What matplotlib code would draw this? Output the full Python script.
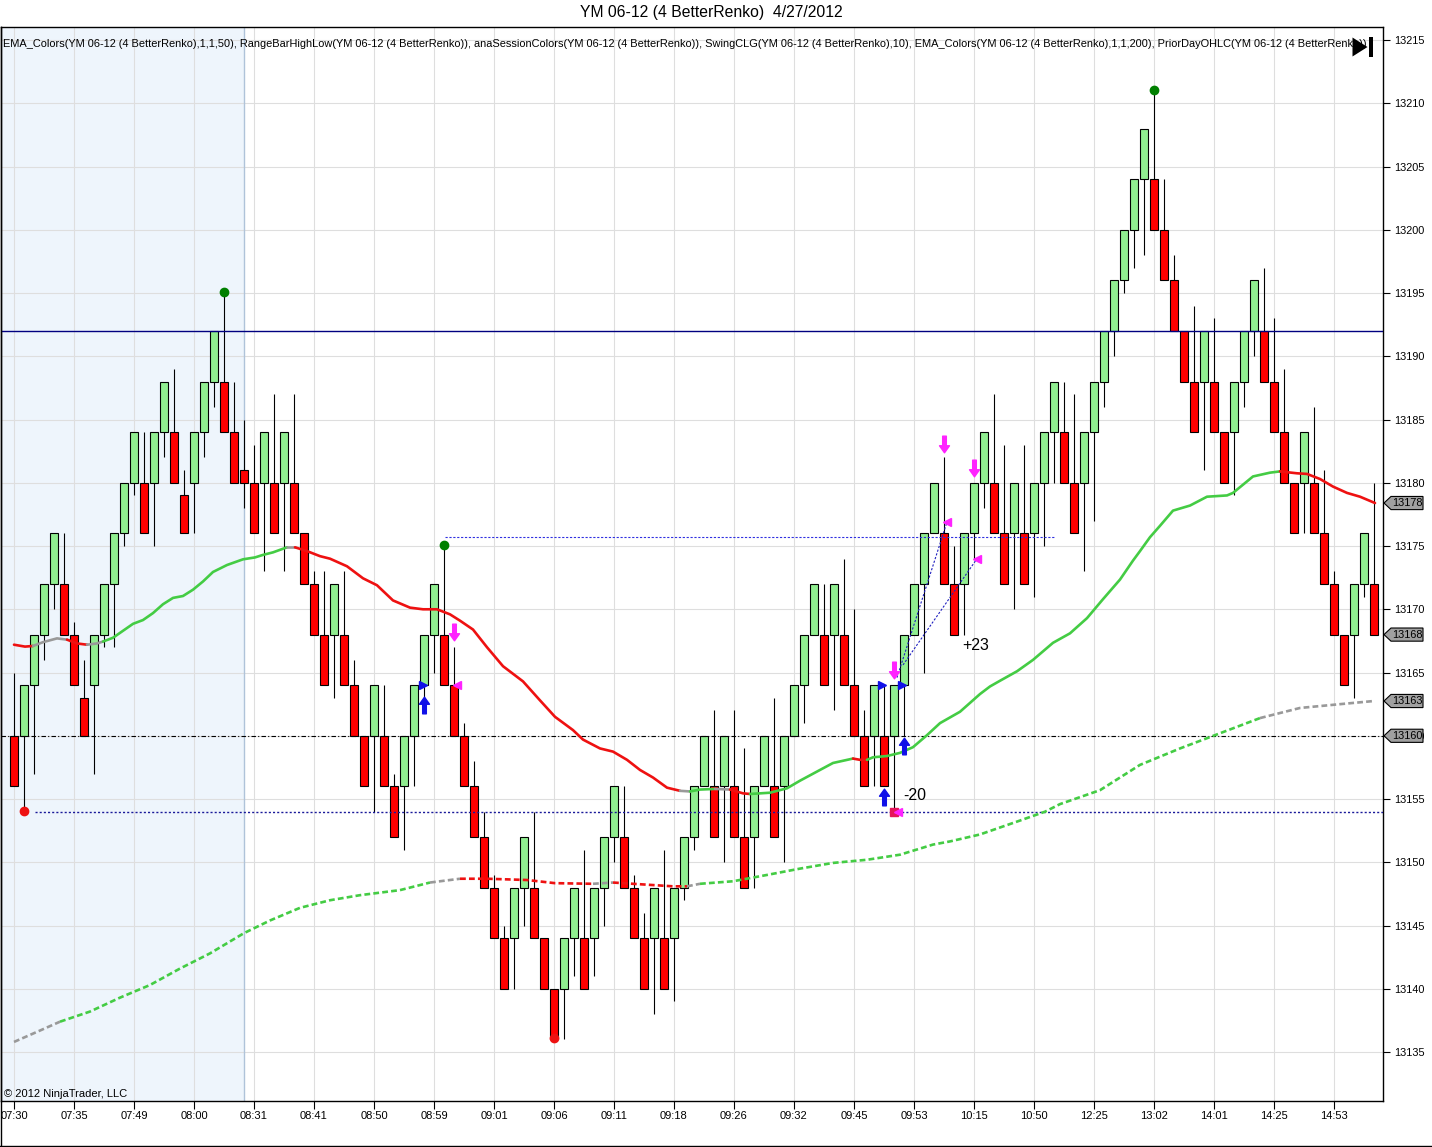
import matplotlib
matplotlib.use("Agg")
import matplotlib.pyplot as plt
import matplotlib.transforms as mtransforms
from matplotlib.patches import Polygon, Rectangle
from matplotlib.lines import Line2D
from matplotlib.path import Path

plt.rcParams['font.family'] = ['Liberation Sans', 'DejaVu Sans']

# ---------------- data ----------------
bar_open = [13160, 13160, 13164, 13168, 13172, 13172, 13168, 13163, 13164, 13168,
            13172, 13176, 13180, 13180, 13180, 13184, 13184, 13179, 13180, 13184,
            13188, 13188, 13184, 13181, 13180, 13180, 13180, 13180, 13180, 13176,
            13172, 13168, 13168, 13168, 13164, 13160, 13160, 13160, 13156, 13156,
            13160, 13164, 13168, 13168, 13164, 13160, 13156, 13152, 13148, 13144,
            13144, 13148, 13148, 13144, 13140, 13140, 13144, 13144, 13144, 13148,
            13152, 13152, 13148, 13144, 13144, 13144, 13144, 13148, 13152, 13156,
            13156, 13156, 13156, 13152, 13152, 13156, 13156, 13156, 13160, 13164,
            13168, 13168, 13168, 13168, 13164, 13160, 13160, 13160, 13160, 13164,
            13168, 13172, 13176, 13176, 13172, 13172, 13176, 13180, 13180, 13176,
            13176, 13176, 13176, 13180, 13184, 13184, 13180, 13180, 13184, 13188,
            13192, 13196, 13200, 13204, 13204, 13200, 13196, 13192, 13188, 13188,
            13188, 13184, 13184, 13188, 13192, 13192, 13188, 13184, 13180, 13180,
            13180, 13176, 13172, 13168, 13168, 13172, 13172]
bar_close = [13156, 13164, 13168, 13172, 13176, 13168, 13164, 13160, 13168, 13172,
             13176, 13180, 13184, 13176, 13184, 13188, 13180, 13176, 13184, 13188,
             13192, 13184, 13180, 13180, 13176, 13184, 13176, 13184, 13176, 13172,
             13168, 13164, 13172, 13164, 13160, 13156, 13164, 13156, 13152, 13160,
             13164, 13168, 13172, 13164, 13160, 13156, 13152, 13148, 13144, 13140,
             13148, 13152, 13144, 13140, 13136, 13144, 13148, 13140, 13148, 13152,
             13156, 13148, 13144, 13140, 13148, 13140, 13148, 13152, 13156, 13160,
             13152, 13160, 13152, 13148, 13156, 13160, 13152, 13160, 13164, 13168,
             13172, 13164, 13172, 13164, 13160, 13156, 13164, 13156, 13164, 13168,
             13172, 13176, 13180, 13172, 13168, 13176, 13180, 13184, 13176, 13172,
             13180, 13172, 13180, 13184, 13188, 13180, 13176, 13184, 13188, 13192,
             13196, 13200, 13204, 13208, 13200, 13196, 13192, 13188, 13184, 13192,
             13184, 13180, 13188, 13192, 13196, 13188, 13184, 13180, 13176, 13184,
             13176, 13172, 13168, 13164, 13172, 13176, 13168]
bar_high = [13165, 13164, 13168, 13172, 13176, 13176, 13169, 13166, 13168, 13172,
            13176, 13180, 13184, 13184, 13184, 13188, 13189, 13181, 13184, 13188,
            13192, 13195, 13188, 13185, 13183, 13184, 13187, 13184, 13187, 13176,
            13173, 13173, 13172, 13173, 13166, 13160, 13164, 13164, 13157, 13160,
            13164, 13168, 13172, 13175, 13167, 13161, 13158, 13154, 13149, 13145,
            13148, 13152, 13154, 13144, 13140, 13144, 13148, 13151, 13148, 13152,
            13156, 13156, 13149, 13146, 13148, 13151, 13148, 13152, 13156, 13160,
            13162, 13160, 13162, 13159, 13156, 13160, 13163, 13160, 13164, 13168,
            13172, 13172, 13172, 13174, 13170, 13162, 13164, 13164, 13164, 13168,
            13172, 13176, 13180, 13182, 13175, 13176, 13180, 13184, 13187, 13183,
            13180, 13183, 13180, 13184, 13188, 13188, 13187, 13184, 13188, 13192,
            13196, 13200, 13204, 13208, 13211, 13204, 13198, 13192, 13194, 13192,
            13193, 13184, 13188, 13192, 13196, 13197, 13193, 13189, 13180, 13184,
            13186, 13181, 13173, 13168, 13172, 13176, 13180]
bar_low = [13156, 13154, 13157, 13166, 13170, 13168, 13164, 13160, 13157, 13167,
           13167, 13175, 13179, 13176, 13175, 13182, 13180, 13176, 13176, 13182,
           13186, 13184, 13180, 13178, 13176, 13173, 13176, 13173, 13176, 13172,
           13168, 13164, 13163, 13164, 13160, 13156, 13154, 13156, 13152, 13151,
           13156, 13163, 13165, 13164, 13160, 13156, 13152, 13148, 13144, 13140,
           13140, 13145, 13144, 13140, 13136, 13136, 13141, 13140, 13141, 13145,
           13150, 13148, 13144, 13140, 13138, 13140, 13139, 13147, 13151, 13156,
           13152, 13150, 13152, 13148, 13148, 13156, 13152, 13150, 13160, 13161,
           13168, 13164, 13162, 13164, 13160, 13156, 13156, 13156, 13154, 13160,
           13168, 13165, 13176, 13172, 13168, 13168, 13174, 13178, 13176, 13172,
           13170, 13172, 13171, 13175, 13180, 13180, 13176, 13173, 13177, 13186,
           13190, 13195, 13197, 13198, 13200, 13196, 13192, 13188, 13184, 13181,
           13184, 13180, 13179, 13186, 13190, 13188, 13184, 13180, 13176, 13176,
           13176, 13172, 13168, 13164, 13163, 13171, 13168]

time_labels = ['07:30', '07:35', '07:49', '08:00', '08:31', '08:41', '08:50', '08:59',
               '09:01', '09:06', '09:11', '09:18', '09:26', '09:32', '09:45', '09:53',
               '10:15', '10:50', '12:25', '13:02', '14:01', '14:25', '14:53']
time_label_bars = [1, 7, 13, 19, 25, 31, 37, 43, 49, 55, 61, 67, 73, 79, 85, 91,
                   97, 103, 109, 115, 121, 127, 133]

# EMA(50) (bar position, value, trend u/d/n)
ema50_pos = [1.0, 2.1, 2.9, 3.9, 5.3, 6.3, 7.3, 8.3, 9.3, 9.9,
             10.9, 11.9, 12.9, 13.9, 14.9, 15.9, 16.9, 17.9, 18.9, 19.9,
             20.9, 22.3, 23.9, 25.1, 25.9, 26.9, 28.3, 29.1, 30.3, 31.6,
             32.6, 34.3, 35.9, 37.3, 38.9, 40.6, 41.9, 43.3, 44.6, 45.6,
             46.9, 48.3, 49.9, 51.9, 53.6, 55.1, 56.9, 57.9, 59.6, 60.9,
             62.3, 63.6, 64.9, 66.3, 67.6, 68.6, 69.6, 71.1, 72.6, 73.9,
             74.6, 76.6, 78.3, 79.6, 81.6, 82.9, 84.9, 85.6, 86.3, 86.9,
             88.3, 89.6, 90.9, 92.3, 93.6, 94.6, 95.6, 96.6, 97.6, 98.6,
             99.6, 101.3, 102.9, 104.9, 106.6, 108.3, 109.9, 111.6, 112.9, 113.6,
             114.6, 115.6, 116.9, 118.6, 120.3, 122.3, 122.9, 124.9, 126.6, 127.6,
             129.3, 130.3, 131.6, 132.9, 134.3, 135.6, 137.1]
ema50_val = [13167.2, 13167.05, 13167.1, 13167.4, 13167.7, 13167.6, 13167.3, 13167.2, 13167.3, 13167.45,
             13167.75, 13168.3, 13168.85, 13169.15, 13169.7, 13170.4, 13170.9, 13171.05, 13171.55, 13172.2,
             13172.95, 13173.5, 13173.95, 13174.1, 13174.3, 13174.5, 13174.9, 13174.9, 13174.6, 13174.2,
             13174.0, 13173.4, 13172.45, 13171.9, 13170.7, 13170.13, 13170.0, 13170.0, 13169.6, 13169.1,
             13168.4, 13167.0, 13165.5, 13164.3, 13162.8, 13161.5, 13160.45, 13159.7, 13159.0, 13158.75,
             13158.1, 13157.3, 13156.7, 13155.9, 13155.65, 13155.6, 13155.75, 13155.8, 13155.75, 13155.45,
             13155.4, 13155.5, 13155.85, 13156.45, 13157.3, 13157.85, 13158.2, 13158.1, 13158.1, 13158.3,
             13158.4, 13158.65, 13159.1, 13160.05, 13161.0, 13161.45, 13161.9, 13162.6, 13163.3, 13163.9,
             13164.35, 13165.1, 13166.0, 13167.35, 13168.1, 13169.3, 13170.8, 13172.35, 13173.85, 13174.6,
             13175.7, 13176.6, 13177.8, 13178.2, 13178.9, 13179.0, 13179.2, 13180.5, 13180.8, 13180.9,
             13180.75, 13180.7, 13180.3, 13179.7, 13179.2, 13178.9, 13178.4]
ema50_trend = ("ddd" "nnn" "dd" "nn" "uuuuuuuuuuuuuuuuu" "n"
               "ddddddddddddddddddddddddddd" "n" "uu" "n" "dd" "uuuuuu" "dd"
               "uuuuuuuuuuuuuuuuuuuuuuuuuuuuuuu" "ddddddd")

# EMA(200)
ema200_pos = [1.0, 3.6, 5.6, 8.6, 11.6, 14.6, 17.6, 20.6, 24.0, 26.6,
              29.6, 32.6, 35.6, 39.6, 42.6, 45.6, 48.3, 52.3, 55.1, 58.9,
              60.9, 62.9, 66.9, 68.3, 69.6, 72.9, 76.3, 79.6, 82.9, 86.3,
              89.6, 92.9, 94.6, 97.6, 101.6, 104.1, 105.6, 109.6, 113.6, 117.6,
              121.6, 125.6, 129.6, 133.6, 137.0]
ema200_val = [13135.8, 13136.7, 13137.4, 13138.2, 13139.3, 13140.3, 13141.6, 13142.8, 13144.4, 13145.4,
              13146.4, 13147.0, 13147.4, 13147.8, 13148.4, 13148.7, 13148.7, 13148.6, 13148.35, 13148.3,
              13148.4, 13148.3, 13148.1, 13148.1, 13148.3, 13148.5, 13149.0, 13149.5, 13149.95, 13150.2,
              13150.6, 13151.4, 13151.65, 13152.2, 13153.3, 13154.0, 13154.6, 13155.7, 13157.7, 13159.0,
              13160.2, 13161.4, 13162.2, 13162.5, 13162.75]
ema200_trend = ("nnn" "uuuuuuuuuuuu" "n" "dddd" "n" "ddd" "n"
                "uuuuuuuuuuuuuuuuu" "nnn")

prior_high = 13192
prior_close = 13160
swing_low_line = 13154
swing_low_line_start = 3.1
swing_high_line = 13175.7
swing_high_line_span = [44.1, 105.1]
session_end_bar = 24.0

swing_high_bars = [22, 44, 115]
swing_high_vals = [13195.1, 13175.1, 13211.05]
swing_low_bars = [2, 55]
swing_low_vals = [13154.05, 13136.1]

up_arrow_bars = [42, 88, 90]
up_arrow_vals = [13162.4, 13155.2, 13159.2]
down_arrow_bars = [45, 89, 94, 97]
down_arrow_vals = [13168.2, 13165.2, 13183.1, 13181.2]
entry_tri_bars = [41.9, 87.8, 89.8]
entry_tri_vals = [13164.0, 13164.0, 13164.0]
exit_tri_bars = [45.3, 89.4, 94.3, 97.3]
exit_tri_vals = [13164.0, 13154.0, 13176.9, 13174.0]
stop_bar, stop_val = 89, 13154.0
trade_lines = [((89.3, 13164.6), (94.3, 13176.9)),
               ((89.9, 13165.6), (97.3, 13174.0))]
trade_texts = ['-20', '+23']
trade_text_pos = [(89.9, 13155.3), (95.8, 13167.1)]

header = ("EMA_Colors(YM 06-12 (4 BetterRenko),1,1,50), RangeBarHighLow(YM 06-12 (4 BetterRenko)), "
          "anaSessionColors(YM 06-12 (4 BetterRenko)), SwingCLG(YM 06-12 (4 BetterRenko),10), "
          "EMA_Colors(YM 06-12 (4 BetterRenko),1,1,200), PriorDayOHLC(YM 06-12 (4 BetterRenko))")
title = "YM 06-12 (4 BetterRenko)  4/27/2012"

# ---------------- figure ----------------
W, H = 1432, 1147
fig = plt.figure(figsize=(W / 100, H / 100), dpi=100)
fig.patch.set_facecolor('white')
ax_l, ax_r, ax_t, ax_b = 1, 1383, 27, 1101
ax = fig.add_axes([ax_l / W, 1 - ax_b / H, (ax_r - ax_l) / W, (ax_b - ax_t) / H])
ax.set_xlim(-0.3, 137.9)
ax.set_ylim(13131.13, 13216.03)

GREEN_BAR = '#90EE90'
RED_BAR = '#FF0000'
GRID = '#DEDEDE'

# session shading
ax.axvspan(-0.3, session_end_bar, color='#EEF5FC', zorder=0, lw=0)
ax.axvline(session_end_bar, color='#AFC3D9', lw=1.0, zorder=0.6)

# grid
for b in time_label_bars:
    ax.axvline(b, color=GRID, lw=0.8, zorder=0.5)
yt = list(range(13135, 13216, 5))
for v in yt:
    ax.axhline(v, color=GRID, lw=0.8, zorder=0.5)

# bars
n = len(bar_open)
xs = list(range(1, n + 1))
ax.vlines(xs, bar_low, bar_high, color='black', lw=0.8, zorder=2.5)
bottoms = [min(o, c) for o, c in zip(bar_open, bar_close)]
heights = [abs(c - o) for o, c in zip(bar_open, bar_close)]
colors = [GREEN_BAR if c > o else RED_BAR for o, c in zip(bar_open, bar_close)]
ax.bar(xs, heights, bottom=bottoms, width=0.82, color=colors,
       edgecolor='black', linewidth=0.8, zorder=3)

# level lines
ax.axhline(prior_high, color='#000080', lw=1.0, zorder=3.5)
ax.axhline(prior_close, color='black', lw=0.8, ls=(0, (4, 2, 1, 2)), zorder=3.5)
ax.plot([swing_low_line_start, 137.9], [swing_low_line, swing_low_line],
        color='#1A1A9A', lw=1.0, ls=(0, (1.5, 1.5)), zorder=3.5)
ax.plot(swing_high_line_span, [swing_high_line, swing_high_line],
        color='#3030E0', lw=0.8, ls=(0, (2, 1.5)), zorder=3.5)

# EMA lines
cmap = {'u': '#44CC44', 'd': '#EE1111', 'n': '#999999'}


def draw_runs(pos, val, trend, **kw):
    m = len(pos)
    k = 1
    while k < m:
        t = trend[k]
        j = k
        while j + 1 < m and trend[j + 1] == t:
            j += 1
        ax.plot(pos[k - 1:j + 1], val[k - 1:j + 1], color=cmap[t],
                solid_capstyle='round', zorder=4, **kw)
        k = j + 1


draw_runs(ema50_pos, ema50_val, ema50_trend, lw=1.9)
draw_runs(ema200_pos, ema200_val, ema200_trend, lw=1.9, ls=(0, (2.2, 1.2)))

# trade lines
for (p0, p1) in trade_lines:
    ax.plot([p0[0], p1[0]], [p0[1], p1[1]], color='#2020C0', lw=0.8,
            ls=(0, (2, 1.5)), zorder=4.5)

# markers
ax.plot(swing_high_bars, swing_high_vals, 'o', color='#008000', ms=6, zorder=5)
ax.plot(swing_low_bars, swing_low_vals, 'o', color='#EE1111', ms=6, zorder=5)
ax.plot([stop_bar], [stop_val], 's', color='#E5145A', ms=6, zorder=5)

up_path = Path([(0, 1), (0.6, 0.15), (0.22, 0.15), (0.22, -1), (-0.22, -1),
                (-0.22, 0.15), (-0.6, 0.15), (0, 1)], closed=True)
down_path = Path([(0, -1), (0.6, -0.15), (0.22, -0.15), (0.22, 1), (-0.22, 1),
                  (-0.22, -0.15), (-0.6, -0.15), (0, -1)], closed=True)
ax.plot(up_arrow_bars, up_arrow_vals, ls='none', marker=up_path, ms=12,
        color='#1010E8', zorder=5.5)
ax.plot(down_arrow_bars, down_arrow_vals, ls='none', marker=down_path, ms=12,
        color='#FF22FF', zorder=5.5)
ax.plot(entry_tri_bars, entry_tri_vals, ls='none', marker='>', ms=5.5,
        color='#1010E8', zorder=5.5)
ax.plot(exit_tri_bars, exit_tri_vals, ls='none', marker='<', ms=5.5,
        color='#FF22FF', zorder=5.5)

for t, (bx, by) in zip(trade_texts, trade_text_pos):
    ax.text(bx, by, t, fontsize=11.5, ha='left', va='center', color='black', zorder=6)

# axes styling
for s in ax.spines.values():
    s.set_color('black')
    s.set_linewidth(1.0)
ax.yaxis.tick_right()
ax.set_yticks(yt)
ax.set_yticklabels([str(v) for v in yt])
ax.tick_params(axis='y', direction='out', length=5, width=0.8, labelsize=7.8, pad=3,
               colors='black')
ax.set_xticks(time_label_bars)
ax.set_xticklabels(time_labels)
ax.tick_params(axis='x', direction='out', length=6, width=0.8, labelsize=8, pad=1.5,
               colors='black')

# price boxes on the right axis
btr = mtransforms.blended_transform_factory(fig.transFigure, ax.transData)
box_vals = [ema50_val[-1], bar_close[-1], ema200_val[-1], prior_close]
for v in box_vals:
    pts = [(1384 / W, v), (1391 / W, v + 0.52), (1423 / W, v + 0.52),
           (1423 / W, v - 0.52), (1391 / W, v - 0.52)]
    poly = Polygon(pts, closed=True, facecolor='#A0A0A0', edgecolor='black',
                   lw=0.8, transform=btr, clip_on=False, zorder=10)
    fig.add_artist(poly)
    fig.text(1407.5 / W, v, f"{v:.0f}", transform=btr, fontsize=7.8,
             ha='center', va='center', color='black', zorder=11)

# texts
fig.text(711.5 / W, 1 - 13 / H, title, fontsize=11.3, ha='center', va='center')
fig.text(3 / W, 1 - 44 / H, header, fontsize=7.95, ha='left', va='center')
fig.text(4 / W, 1 - 1094 / H, "\u00a9 2012 NinjaTrader, LLC", fontsize=8,
         ha='left', va='center')

# play-to-end icon
tri = Polygon([(1352.5 / W, 1 - 37.5 / H), (1352.5 / W, 1 - 56.5 / H),
               (1367.5 / W, 1 - 47 / H)], closed=True, facecolor='black',
              edgecolor='none', transform=fig.transFigure, zorder=12)
fig.add_artist(tri)
fig.add_artist(Rectangle((1369.3 / W, 1 - 57 / H), 3.3 / W, 20 / H, zorder=12,
                         facecolor='black', edgecolor='none', transform=fig.transFigure))

# outer frame lines
fig.add_artist(Line2D([0.5 / W, 0.5 / W], [1 - 1146 / H, 1 - 27 / H], color='black',
                      lw=1.0, transform=fig.transFigure))
fig.add_artist(Line2D([0, 1], [1 - 1145.5 / H, 1 - 1145.5 / H], color='black',
                      lw=1.0, transform=fig.transFigure))

fig.savefig('out.png', dpi=100)
